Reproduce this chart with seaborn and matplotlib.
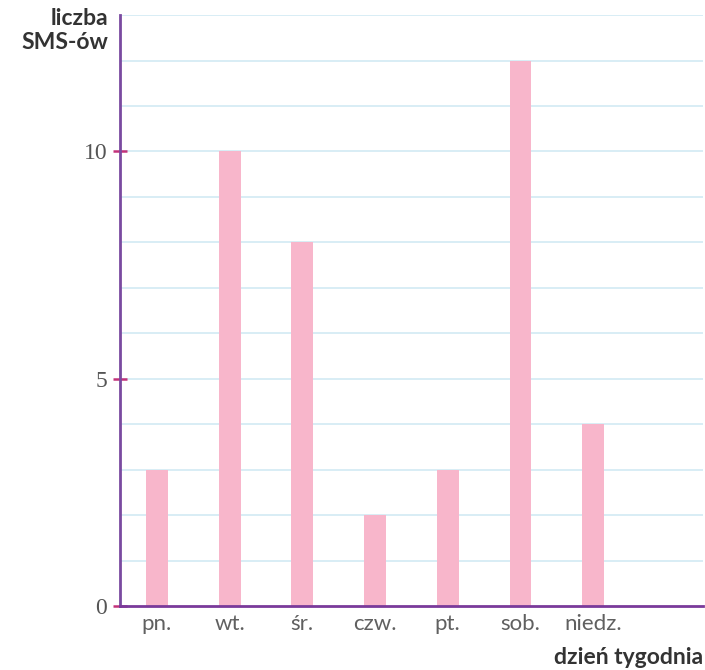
import matplotlib
matplotlib.use("Agg")
import matplotlib.pyplot as plt
import seaborn as sns
import pandas as pd

days = ["pn.", "wt.", "śr.", "czw.", "pt.", "sob.", "niedz."]
sms = [3, 10, 8, 2, 3, 12, 4]
yticks = [0, 5, 10]

sns.set_theme(style="white")
plt.rcParams['font.family'] = ['Lato', 'DejaVu Sans']

df = pd.DataFrame({"day": days, "sms": sms})

fig = plt.figure(figsize=(7.05, 6.7), dpi=100)
ax = fig.add_axes([0.170, 0.0955, 0.827, 0.882])

for v in range(1, 14):
    ax.axhline(v, color="#d6ecf5", lw=1.3, zorder=0)

sns.barplot(data=df, x="day", y="sms", color="#f8b6cb", width=0.3,
            saturation=1, ax=ax, zorder=2, edgecolor="none", linewidth=0)

ax.set_xlim(-0.51, 7.51)
ax.set_ylim(0, 13)
ax.set_yticks(yticks)
ax.set_yticklabels([str(t) for t in yticks], family=["Liberation Serif"],
                   fontsize=17, color="#555555")
ax.tick_params(axis="y", left=True, direction="inout", length=10, width=1.8,
               color="#c2327a", pad=4)
ax.tick_params(axis="x", bottom=False, length=0, pad=6)
for lab in ax.get_xticklabels():
    lab.set_fontsize(16)
    lab.set_color("#606060")

for s in ["top", "right"]:
    ax.spines[s].set_visible(False)
ax.spines["left"].set_color("#7a4aa0")
ax.spines["left"].set_linewidth(2)
ax.spines["bottom"].set_color("#7a3a9a")
ax.spines["bottom"].set_linewidth(2)
ax.spines["left"].set_zorder(3)
ax.spines["bottom"].set_zorder(3)
ax.set_xlabel("")
ax.set_ylabel("")

fig.text(108 / 705, 1 - 8 / 670, "liczba\nSMS-ów", ha="right", va="top",
         fontsize=16.5, fontweight="bold", color="#333333", linespacing=1.2)
fig.text(703 / 705, 1 - 658 / 670, "dzień tygodnia", ha="right", va="center",
         fontsize=16.5, fontweight="bold", color="#333333")

fig.savefig("out.png", dpi=100)
